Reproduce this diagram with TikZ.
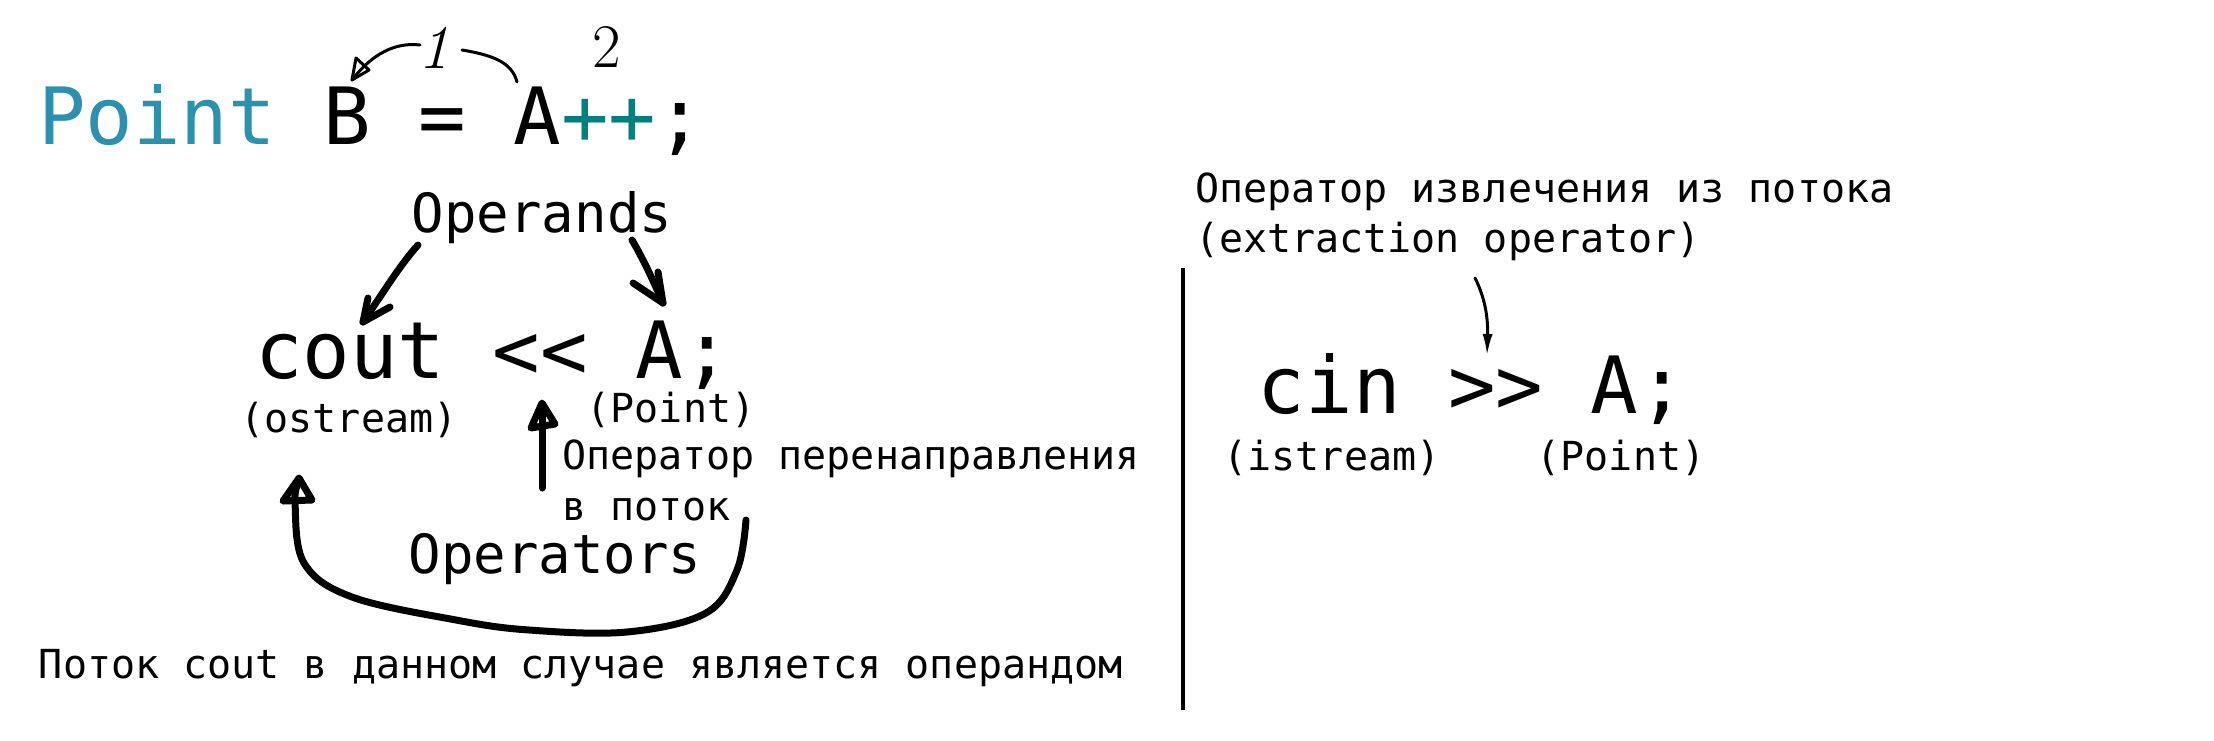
\documentclass[tikz,border=0pt]{standalone}
\usepackage{fontspec}
\setmonofont{DejaVu Sans Mono}
\usetikzlibrary{arrows.meta}
\definecolor{typeblue}{RGB}{43,145,175}
\definecolor{opteal}{RGB}{0,128,128}
\begin{document}
\begin{tikzpicture}[x=0.5pt,y=-0.5pt,
  every node/.style={inner sep=0pt,outer sep=0pt},
  codetxt/.style={font=\ttfamily\fontsize{39.5}{40}\selectfont,anchor=base},
  lbltxt/.style={font=\ttfamily\fontsize{20}{22}\selectfont,anchor=base},
  wordtxt/.style={font=\ttfamily\fontsize{27}{28}\selectfont,anchor=base},
  digittxt/.style={font=\fontsize{31}{31}\selectfont,anchor=base},
  thk/.style={line width=3.5pt,line cap=round,line join=round},
  thn/.style={line width=1.5pt,line cap=round,line join=round}]
\useasboundingbox (0,0) rectangle (2214,740);
% top line
\node[codetxt] (l1) at (371,144) {\textcolor{typeblue}{Point} B = A\textcolor{opteal}{++};};
\node[digittxt] (d1) at (434,68) {\itshape 1};
\node[digittxt] (d2) at (607,67) {2};
\coordinate (a1s) at (420,45);
\coordinate (a1t) at (352,80);
\draw[thn] (a1s) .. controls (395,42) and (372,54) .. (a1t);
\draw[thn] (a1t) -- (356,58) -- (369,70) -- cycle;
\coordinate (a2s) at (462,50);
\coordinate (a2t) at (517,82);
\draw[thn] (a2s) .. controls (492,55) and (512,62) .. (a2t);
% operands
\node[wordtxt] (opd) at (542,232) {Operands};
\coordinate (o1s) at (418,245);
\coordinate (o1t) at (363,322);
\draw[thk] (o1s) .. controls (400,265) and (385,290) .. (o1t);
\draw[thk] (368,298) -- (o1t) -- (390,307);
\coordinate (o2s) at (632,240);
\coordinate (o2t) at (663,303);
\draw[thk] (o2s) .. controls (645,262) and (655,285) .. (o2t);
\draw[thk] (633,283) -- (o2t) -- (658,272);
% cout line
\node[codetxt] (cout) at (493,378) {cout << A;};
\node[lbltxt] (ostr) at (349,432) {(ostream)};
\node[lbltxt] (pt1) at (671,422) {(Point)};
\coordinate (ups) at (542,488);
\coordinate (upt) at (542,404);
\draw[thk] (ups) -- (upt);
\draw[thk] (542,403) -- (531,428) -- (555,424) -- cycle;
\node[lbltxt,anchor=base west] (redir1) at (562,469) {Оператор перенаправления};
\node[lbltxt,anchor=base west] (redir2) at (562,520) {в поток};
\node[wordtxt] (opr) at (555,573) {Operators};
\draw[thk] plot[smooth,tension=0.6] coordinates {(746,520) (737,570) (706,613) (627,632) (529,630) (456,620) (352,597) (304,563) (295,503) (298,484)};
\draw[thk] (299,478) -- (283,501) -- (312,500) -- cycle;
\node[lbltxt,anchor=base west] (note) at (39,678) {Поток cout в данном случае является операндом};
% divider
\draw[line width=2pt] (1183,268) -- (1183,710);
% right side
\node[lbltxt,anchor=base west] (ext1) at (1195,202) {Оператор извлечения из потока};
\node[lbltxt,anchor=base west] (ext2) at (1195,252) {(extraction operator)};
\coordinate (es) at (1475,278);
\coordinate (et) at (1487,356);
\draw[thn,-{Latex[length=11pt,width=5pt]}] (es) .. controls (1486,300) and (1488,320) .. (et);
\node[codetxt] (cin) at (1472,413) {cin >> A;};
\node[lbltxt] (istr) at (1332,470) {(istream)};
\node[lbltxt] (pt2) at (1621,470) {(Point)};
\end{tikzpicture}
\end{document}
